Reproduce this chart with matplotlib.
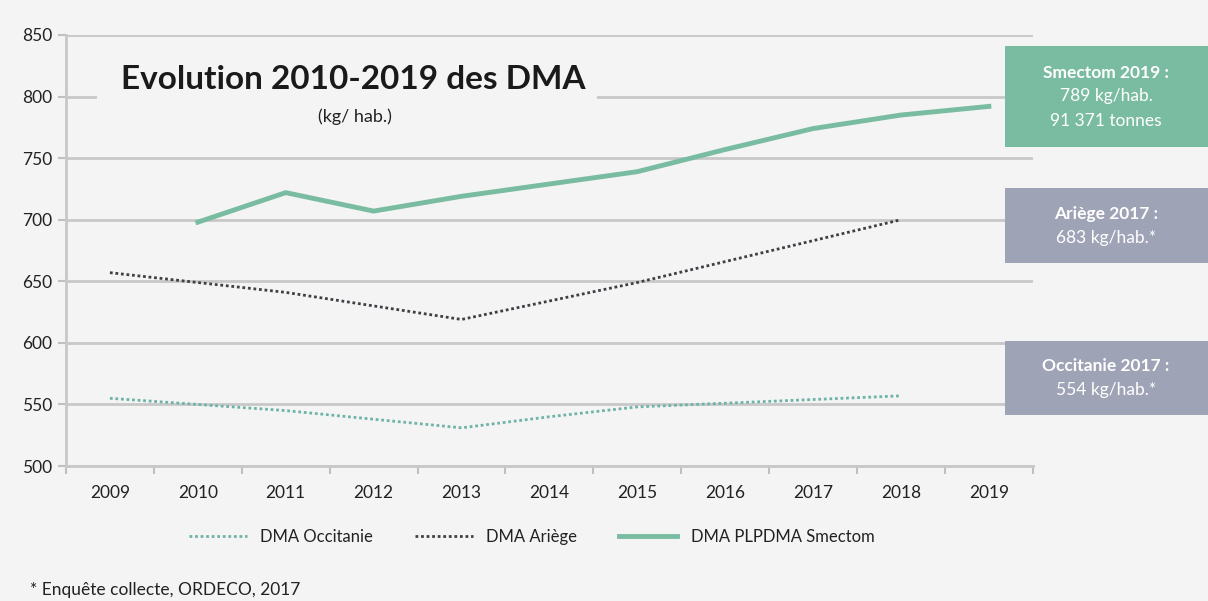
import matplotlib.pyplot as plt
from matplotlib.patches import Rectangle
from matplotlib.lines import Line2D

years = [2009, 2010, 2011, 2012, 2013, 2014, 2015, 2016, 2017, 2018, 2019]
occitanie = [555, 550, 545, 538, 531, 540, 548, 551, 554, 557, None]
ariege = [657, 649, 641, 630, 619, 634, 649, 666, 683, 700, None]
smectom = [None, 698, 722, 707, 719, 729, 739, 757, 774, 785, 792]

plt.rcParams['font.family'] = ['Lato', 'DejaVu Sans']
bg = '#f3f4f3'
green = '#79bca1'
grey_box = '#9fa3b6'

fig = plt.figure(figsize=(12.08, 6.01), dpi=100, facecolor=bg)
ax = fig.add_axes([0.0546, 0.2246, 0.8004, 0.7172], facecolor=bg)

x = list(range(len(years)))


def pts(vals):
    xs = [i for i, v in zip(x, vals) if v is not None]
    ys = [v for v in vals if v is not None]
    return xs, ys


xo, yo = pts(occitanie)
ax.plot(xo, yo, color='#6fb3a6', lw=2, linestyle=(0, (1, 1)), zorder=3)
xa, ya = pts(ariege)
ax.plot(xa, ya, color='#3f3f45', lw=2, linestyle=(0, (1, 1)), zorder=3)
xs, ys = pts(smectom)
ax.plot(xs, ys, color=green, lw=3.5, zorder=4, solid_joinstyle='round')

ax.set_ylim(500, 850)
ax.set_yticks(range(500, 851, 50))
ax.set_xlim(-0.5, 10.5)
ax.set_xticks([i - 0.5 for i in range(12)])
ax.set_xticklabels([])
ax.set_xticks(x, minor=True)
ax.set_xticklabels([str(y) for y in years], minor=True)
ax.tick_params(axis='x', which='major', length=6, color='#bfbfbf', width=1.5)
ax.tick_params(axis='x', which='minor', length=0, pad=14, labelsize=12.5, labelcolor='#222222')
ax.tick_params(axis='y', length=6, color='#bfbfbf', width=1.5, labelsize=12.5, labelcolor='#222222', pad=4)
ax.grid(axis='y', color='#c8c8c8', lw=2, zorder=0)
for side in ['top', 'right']:
    ax.spines[side].set_visible(False)
for side in ['left', 'bottom']:
    ax.spines[side].set_color('#c8c8c8')
    ax.spines[side].set_linewidth(2)

# title box covering gridline
ax.add_patch(Rectangle((0.032, 0.768), 0.517, 0.186, transform=ax.transAxes,
                       facecolor=bg, edgecolor='none', zorder=2))
ax.text(0.297, 0.896, 'Evolution 2010-2019 des DMA', transform=ax.transAxes,
        ha='center', va='center', fontsize=24, fontweight='bold', color='#1a1a1a', zorder=5)
ax.text(0.299, 0.81, '(kg/ hab.)', transform=ax.transAxes,
        ha='center', va='center', fontsize=13, color='#222222', zorder=5)

# right boxes
boxes = [
    (46, 147, green, ['Smectom 2019 :', '789 kg/hab.', '91 371 tonnes'], [True, False, False]),
    (188, 263, grey_box, ['Ariège 2017 :', '683 kg/hab.*'], [True, False]),
    (341, 415, grey_box, ['Occitanie 2017 :', '554 kg/hab.*'], [True, False]),
]
W, H = 1208, 601
for top, bot, col, lines, bold in boxes:
    fig.patches.append(Rectangle((1005 / W, 1 - bot / H), 203 / W, (bot - top) / H,
                                 transform=fig.transFigure, facecolor=col, edgecolor='none'))
    n = len(lines)
    cy = (top + bot) / 2
    for k, (t, b) in enumerate(zip(lines, bold)):
        yy = cy + (k - (n - 1) / 2) * 24
        fig.text(1106 / W, 1 - yy / H, t, ha='center', va='center', color='white',
                 fontsize=12.5, fontweight='bold' if b else 'normal')

handles = [
    Line2D([], [], color='#6fb3a6', lw=2, linestyle=(0, (1, 1))),
    Line2D([], [], color='#3f3f45', lw=2, linestyle=(0, (1, 1))),
    Line2D([], [], color=green, lw=3.5),
]
fig.legend(handles, ['DMA Occitanie', 'DMA Ariège', 'DMA PLPDMA Smectom'],
           loc='center', bbox_to_anchor=(0.44, 0.106), ncol=3, frameon=False,
           fontsize=12, handlelength=3.5, columnspacing=2.5, labelcolor='#222222')

fig.text(30 / W, 1 - 590 / H, '* Enquête collecte, ORDECO, 2017', ha='left', va='center',
         fontsize=12.5, color='#222222')

fig.savefig('out.png', dpi=100, facecolor=bg)
